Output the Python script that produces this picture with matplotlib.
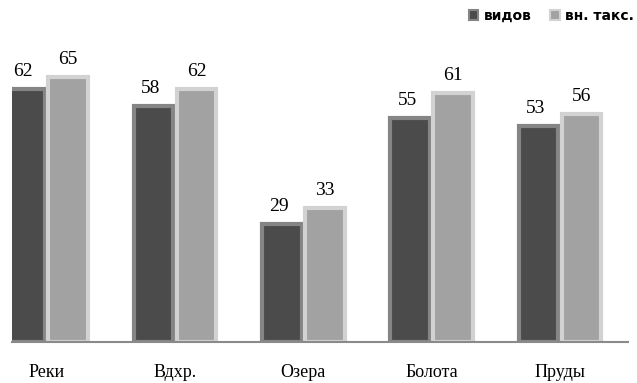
import matplotlib.pyplot as plt
from matplotlib.patches import Patch
import numpy as np

categories = ["Реки", "Вдхр.", "Озера", "Болота", "Пруды"]
vidov = [62, 58, 29, 55, 53]
vn_taks = [65, 62, 33, 61, 56]

fig = plt.figure(figsize=(6.37, 3.83), dpi=100)
ax = fig.add_axes([12 / 637, 41 / 383, 616 / 637, 326 / 383])

x = np.arange(len(categories))
w = 0.31
off = 0.168
ax.bar(x - off, vidov, w, color="#4b4b4b", edgecolor="#858585", linewidth=3)
ax.bar(x + off, vn_taks, w, color="#a2a2a2", edgecolor="#d2d2d2", linewidth=3)

for xi, v in zip(x, vidov):
    ax.text(xi - off - 0.02, v + 2.2, str(v), ha="center", va="bottom",
            family="Liberation Serif", fontsize=14)
for xi, v in zip(x, vn_taks):
    ax.text(xi + off, v + 2.2, str(v), ha="center", va="bottom",
            family="Liberation Serif", fontsize=14)

ax.set_xlim(-0.27, 4.53)
ax.set_ylim(0, 80)
ax.set_xticks(x)
ax.set_xticklabels(categories, family="Liberation Serif", fontsize=13)
ax.tick_params(axis="x", length=0, pad=16)
ax.set_yticks([])
for s in ["top", "left", "right"]:
    ax.spines[s].set_visible(False)
ax.spines["bottom"].set_color("#8a8a8a")
ax.spines["bottom"].set_linewidth(1.5)

handles = [Patch(facecolor="#4b4b4b", edgecolor="#858585", linewidth=1.5),
           Patch(facecolor="#a2a2a2", edgecolor="#d2d2d2", linewidth=1.5)]
fig.legend(handles, ["видов", "вн. такс."], loc="upper right", ncol=2,
           frameon=False, bbox_to_anchor=(1.015, 1.01),
           handlelength=0.7, handleheight=0.7, handletextpad=0.4,
           columnspacing=1.3, prop={"weight": "bold", "size": 10})

fig.savefig("out.png", dpi=100)
